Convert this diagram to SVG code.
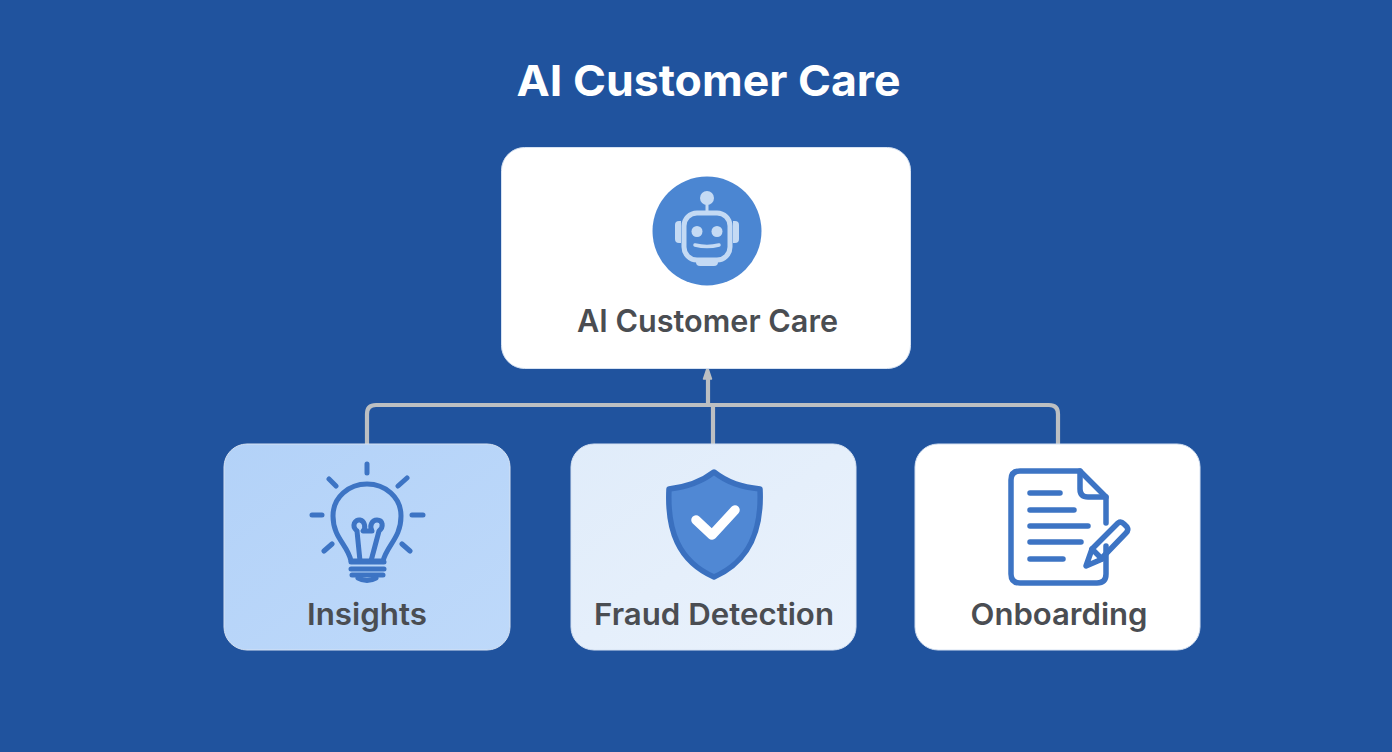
<svg xmlns="http://www.w3.org/2000/svg" width="1392" height="752" viewBox="0 0 1392 752">
<defs>
<linearGradient id="insightFill" x1="0" y1="0" x2="1" y2="1"><stop offset="0" stop-color="#b3d2f8"/><stop offset="1" stop-color="#bed9fa"/></linearGradient>
<linearGradient id="fraudFill" x1="0" y1="0" x2="1" y2="1"><stop offset="0" stop-color="#e0ecfa"/><stop offset="1" stop-color="#eaf2fc"/></linearGradient>
</defs>
<style>
.lbl{font-family:Inter,"Noto Sans","Liberation Sans",sans-serif;font-weight:600;fill:#4a4d52;text-anchor:middle}
.card{stroke:#d6e2f2;stroke-width:1}
.conn{fill:none;stroke:#bcbfc2;stroke-width:4.200;stroke-linecap:butt}
.ic{fill:none;stroke:#3d74c4;stroke-linecap:round;stroke-linejoin:round}
</style>
<rect width="1392" height="752" fill="#20539e"/>
<text id="title" x="708.500" y="96" font-family="Inter,'Noto Sans','Liberation Sans',sans-serif" font-weight="700" font-size="43" fill="#ffffff" text-anchor="middle" textLength="384" lengthAdjust="spacingAndGlyphs">AI Customer Care</text>

<g id="connectors">
<path class="conn" d="M367 444V414Q367 405 376 405H1049Q1058 405 1058 414V444"/>
<path class="conn" d="M713 405V444"/>
<path class="conn" d="M708 405V376"/>
<path d="M703.500 379L707.500 367L711.500 379Z" fill="#bcbfc2" stroke="#bcbfc2" stroke-width="1.500" stroke-linejoin="round"/>
</g>

<g id="node-main">
<rect class="card" x="501.500" y="147.500" width="409" height="221" rx="23" fill="#ffffff"/>
<circle cx="707" cy="231" r="54.500" fill="#4b86d2"/>
<g fill="#c4daf4">
<circle cx="707" cy="198" r="7"/>
<rect x="705.500" y="203" width="3" height="10"/>
<path d="M681 221h-2q-4 0-4 4v14q0 4 4 4h2z"/>
<path d="M733 221h2q4 0 4 4v14q0 4-4 4h-2z"/>
<path d="M696 261h22v1q0 4-4 4h-14q-4 0-4-4z"/>
<circle cx="697" cy="231.500" r="5.500"/>
<circle cx="717" cy="231.500" r="5.500"/>
</g>
<rect x="684" y="213" width="46" height="47" rx="13" fill="none" stroke="#c4daf4" stroke-width="5"/>
<path d="M695 245Q707 248 719 245" fill="none" stroke="#c4daf4" stroke-width="3.500" stroke-linecap="round"/>
<text class="lbl" x="707.500" y="332" font-size="31" textLength="261" lengthAdjust="spacingAndGlyphs">AI Customer Care</text>
</g>

<g id="node-insights">
<rect class="card" x="224" y="444" width="286" height="206" rx="23" fill="url(#insightFill)"/>
<g class="ic" stroke-width="5">
<path d="M367 464V473M329 479L336 486M407 478L398 486M312 515H322M412 515H423M324 551L332 544M410 551L402 544"/>
<path d="M351 561C348 545 333 538 333 516C333 497 349 484 367 484C385 484 401 497 401 516C401 538 387 545 383 561Z"/>
<path d="M360 561L357 531M371 561L379 531M357 531C351 526 355 519 360 520C365 521 366 528 363 531H372C369 526 372 520 377 520C383 520 384 527 379 531"/>
<path d="M351 562H384M351 569H384M352 575H383"/>
<path d="M358 578Q367 583 376 578"/>
</g>
<text class="lbl" x="367" y="625" font-size="30" textLength="120" lengthAdjust="spacingAndGlyphs">Insights</text>
</g>

<g id="node-fraud">
<rect class="card" x="571" y="444" width="285" height="206" rx="23" fill="url(#fraudFill)"/>
<path d="M714 472C700 483 686 487 669 489C667 530 678 561 714 577C750 561 762 530 760 489C742 487 728 483 714 472Z" fill="#5088d4" stroke="#3a70bf" stroke-width="5.500" stroke-linejoin="round"/>
<path d="M696 520L712 535L735 510" fill="none" stroke="#ffffff" stroke-width="9.500" stroke-linecap="round" stroke-linejoin="round"/>
<text class="lbl" x="714" y="625" font-size="30" textLength="240" lengthAdjust="spacingAndGlyphs">Fraud Detection</text>
</g>

<g id="node-onboarding">
<rect class="card" x="915" y="444" width="285" height="206" rx="23" fill="#ffffff"/>
<g class="ic" stroke-width="5.500">
<path d="M1106 546V574Q1106 583 1097 583H1020Q1011 583 1011 574V480Q1011 471 1020 471H1080L1106 497V523"/>
<path d="M1080 471V489Q1080 497 1088 497H1106"/>
<path d="M1030 493H1060M1030 510H1074M1030 526H1088M1030 542H1081M1030 559H1063"/>
<path d="M1086 566L1092 549L1118 523Q1121 521 1124 524L1127 527Q1129 530 1126 533L1100 560L1086 566Z"/>
<path d="M1092 549L1102 559"/>
</g>
<text class="lbl" x="1059" y="625" font-size="30" textLength="177" lengthAdjust="spacingAndGlyphs">Onboarding</text>
</g>
</svg>
